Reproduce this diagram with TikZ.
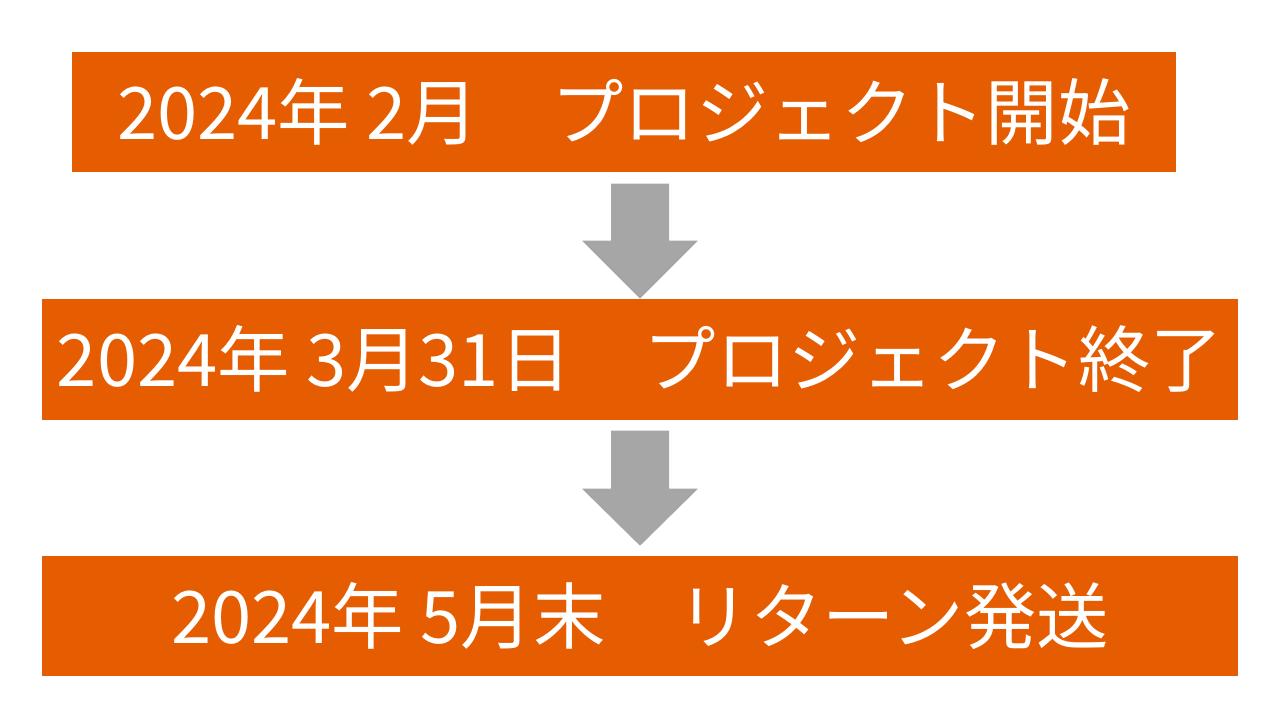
\documentclass[tikz,border=0pt]{standalone}
\usepackage{fontspec}
\setmainfont{Noto Sans CJK JP}
\usetikzlibrary{calc}
\definecolor{boxorange}{HTML}{E65C00}
\definecolor{arrowgray}{HTML}{A6A6A6}
\tikzset{stagebox/.style={fill=boxorange, text=white, inner sep=0pt,
    font=\fontsize{20.6}{23}\selectfont}}
\tikzset{blockarrow/.style={fill=arrowgray}}

\begin{document}
\begin{tikzpicture}
\useasboundingbox (0,0) rectangle (12.8,-7.2);

\node[stagebox, minimum width=11.04cm, minimum height=1.20cm] (start) at (6.24,-1.12)
  {2024年 2月\hspace{1em}プロジェクト開始};
\node[stagebox, minimum width=11.96cm, minimum height=1.21cm] (finish) at (6.40,-3.595)
  {2024年 3月31日\hspace{1em}プロジェクト終了};
\node[stagebox, minimum width=11.96cm, minimum height=1.20cm] (ship) at (6.40,-6.16)
  {2024年 5月末\hspace{1em}リターン発送};

% block arrows between the stages
\fill[blockarrow] ($(finish.north |- start.south)+(-0.29,-0.11)$)
  -- ++(0.58,0) -- ++(0,-0.57) -- ++(0.29,0) -- ++(-0.58,-0.58)
  -- ++(-0.58,0.58) -- ++(0.29,0) -- cycle;
\fill[blockarrow] ($(finish.south)+(-0.29,-0.10)$)
  -- ++(0.58,0) -- ++(0,-0.58) -- ++(0.29,0) -- ++(-0.58,-0.57)
  -- ++(-0.58,0.57) -- ++(0.29,0) -- cycle;
\end{tikzpicture}
\end{document}
